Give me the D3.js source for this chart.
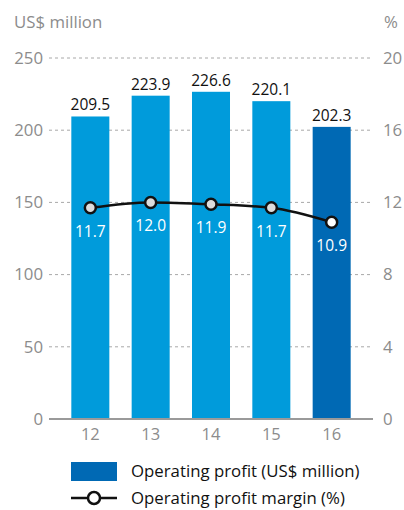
<!DOCTYPE html>
<html>
<head>
<meta charset="utf-8">
<script src="https://cdn.jsdelivr.net/npm/d3@7"></script>
<style>
  body { margin: 0; background: #fff; }
  text { font-family: 'Open Sans', sans-serif; }
</style>
</head>
<body>
<div id="chart"></div>
<script>
const years = ['12', '13', '14', '15', '16']
const profit = [209.5, 223.9, 226.6, 220.1, 202.3]
const margins = [11.7, 12.0, 11.9, 11.7, 10.9]
const leftTicks = [0, 50, 100, 150, 200, 250]
const rightTicks = [0, 4, 8, 12, 16, 20]

const width = 404
const height = 510
const plot = { left: 49, right: 373, top: 58, bottom: 419 }

const svg = d3
  .select('#chart')
  .append('svg')
  .attr('width', width)
  .attr('height', height)

const xScale = d3
  .scaleBand()
  .domain(years)
  .range([plot.left, plot.right])
  .padding(0.37)

const yLeft = d3
  .scaleLinear()
  .domain([0, 250])
  .range([plot.bottom, plot.top])

const yRight = d3
  .scaleLinear()
  .domain([0, 20])
  .range([plot.bottom, plot.top])

const lightBlue = '#009bdb'
const darkBlue = '#0069b4'
const grey = '#8c8c8c'

// unit titles
svg
  .append('text')
  .text('US$ million')
  .attr('x', 14)
  .attr('y', 28)
  .attr('fill', grey)
  .style('font-size', '16.8px')

svg
  .append('text')
  .text('%')
  .attr('x', 384)
  .attr('y', 28)
  .attr('fill', grey)
  .style('font-size', '16.8px')

// dotted grid lines
svg
  .selectAll('.grid')
  .data(leftTicks.filter(d => d > 0))
  .enter()
  .append('line')
  .attr('class', 'grid')
  .attr('x1', plot.left)
  .attr('x2', plot.right)
  .attr('y1', d => yLeft(d))
  .attr('y2', d => yLeft(d))
  .attr('stroke', '#a8a8a8')
  .attr('stroke-width', 1)
  .attr('stroke-dasharray', '3,3')

// left axis labels
const leftAxis = svg
  .append('g')
  .attr('transform', 'translate(43,0)')
  .call(d3.axisLeft(yLeft).tickValues(leftTicks).tickSize(0).tickPadding(0))
leftAxis.select('.domain').remove()
leftAxis
  .selectAll('text')
  .attr('fill', grey)
  .style('font-size', '16.8px')

// right axis labels
const rightAxis = svg
  .append('g')
  .attr('transform', 'translate(383,0)')
  .call(d3.axisRight(yRight).tickValues(rightTicks).tickSize(0).tickPadding(0))
rightAxis.select('.domain').remove()
rightAxis
  .selectAll('text')
  .attr('fill', grey)
  .style('font-size', '16.8px')

// bars
svg
  .selectAll('.bar')
  .data(profit)
  .enter()
  .append('rect')
  .attr('class', 'bar')
  .attr('x', (d, i) => xScale(years[i]))
  .attr('y', d => yLeft(d))
  .attr('width', xScale.bandwidth())
  .attr('height', d => yLeft(0) - yLeft(d))
  .attr('fill', (d, i) => (i === profit.length - 1 ? darkBlue : lightBlue))

svg
  .selectAll('.bar-label')
  .data(profit)
  .enter()
  .append('text')
  .attr('class', 'bar-label')
  .text(d => d.toFixed(1))
  .attr('x', (d, i) => xScale(years[i]) + xScale.bandwidth() / 2)
  .attr('y', d => yLeft(d) - 6)
  .attr('text-anchor', 'middle')
  .attr('fill', '#111')
  .style('font-size', '15.5px')

// baseline
svg
  .append('line')
  .attr('x1', plot.left)
  .attr('x2', plot.right)
  .attr('y1', yLeft(0))
  .attr('y2', yLeft(0))
  .attr('stroke', '#9a9a9a')
  .attr('stroke-width', 2)

// x axis labels
const xAxis = svg
  .append('g')
  .attr('transform', 'translate(0,' + plot.bottom + ')')
  .call(d3.axisBottom(xScale).tickSize(0).tickPadding(9))
xAxis.select('.domain').remove()
xAxis
  .selectAll('text')
  .attr('fill', grey)
  .style('font-size', '16.5px')

// margin line
const cx = (d, i) => xScale(years[i]) + xScale.bandwidth() / 2
const line = d3
  .line()
  .x((d, i) => cx(d, i))
  .y(d => yRight(d))
  .curve(d3.curveMonotoneX)

svg
  .append('path')
  .datum(margins)
  .attr('d', line)
  .attr('fill', 'none')
  .attr('stroke', '#111')
  .attr('stroke-width', 2.5)

svg
  .selectAll('.marker')
  .data(margins)
  .enter()
  .append('circle')
  .attr('class', 'marker')
  .attr('cx', cx)
  .attr('cy', d => yRight(d))
  .attr('r', 5.5)
  .attr('fill', (d, i) => (i === margins.length - 1 ? '#fff' : '#dcdcdc'))
  .attr('stroke', '#111')
  .attr('stroke-width', 2.5)

svg
  .selectAll('.margin-label')
  .data(margins)
  .enter()
  .append('text')
  .attr('class', 'margin-label')
  .text(d => d.toFixed(1))
  .attr('x', cx)
  .attr('y', d => yRight(d) + 29)
  .attr('text-anchor', 'middle')
  .attr('fill', '#fff')
  .style('font-size', '15.5px')

// legend
const legend = svg.append('g').attr('transform', 'translate(71,462)')

legend
  .append('rect')
  .attr('width', 46)
  .attr('height', 19)
  .attr('fill', darkBlue)

legend
  .append('text')
  .text('Operating profit (US$ million)')
  .attr('x', 60)
  .attr('y', 15)
  .attr('fill', '#111')
  .style('font-size', '16.8px')

legend
  .append('line')
  .attr('x1', 0)
  .attr('x2', 46)
  .attr('y1', 36)
  .attr('y2', 36)
  .attr('stroke', '#111')
  .attr('stroke-width', 2.5)

legend
  .append('circle')
  .attr('cx', 23)
  .attr('cy', 36)
  .attr('r', 6)
  .attr('fill', '#fff')
  .attr('stroke', '#111')
  .attr('stroke-width', 2.5)

legend
  .append('text')
  .text('Operating profit margin (%)')
  .attr('x', 60)
  .attr('y', 42)
  .attr('fill', '#111')
  .style('font-size', '16.8px')
</script>
</body>
</html>
